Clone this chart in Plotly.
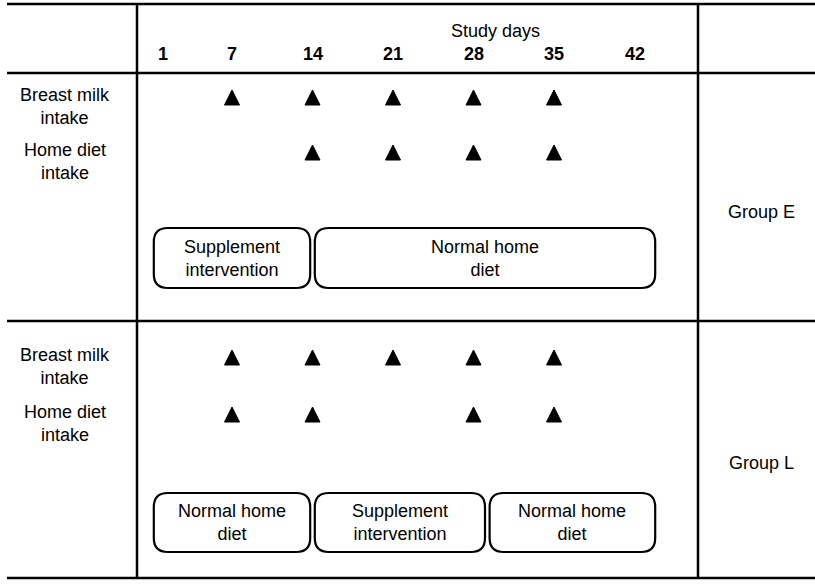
import plotly.graph_objects as go

# ---------------- data ----------------
study_days = [1, 7, 14, 21, 28, 35, 42]
axis_title = "Study days"
group_names = ["Group E", "Group L"]
row_labels = ["Breast milk<br>intake", "Home diet<br>intake"]

# measurement days (triangles)
e_breast_milk_days = [7, 14, 21, 28, 35]
e_home_diet_days = [14, 21, 28, 35]
l_breast_milk_days = [7, 14, 21, 28, 35]
l_home_diet_days = [7, 14, 28, 35]

# diet periods (boxes), in study days
e_period_labels = ["Supplement<br>intervention", "Normal home<br>diet"]
e_period_start = [0, 14]
e_period_end = [14, 44]
l_period_labels = ["Normal home<br>diet", "Supplement<br>intervention", "Normal home<br>diet"]
l_period_start = [0, 14, 29.2]
l_period_end = [14, 29.2, 44]

# ---------------- layout constants (pixels) ----------------
W, H = 815, 585
PX_PER_DAY = 11.5
X_REF_PX = 232  # pixel position of day 7
x_lo = 7 - X_REF_PX / PX_PER_DAY
x_hi = 7 + (W - X_REF_PX) / PX_PER_DAY

FONT = "Liberation Sans, Arial, Helvetica, sans-serif"
FS = 18

y_top, y_head, y_mid, y_bot = 4, 73, 321, 578
y_title, y_days = 31, 54
groups_layout = [
    dict(bm=96, hd=151, label=212, box=(228, 288)),
    dict(bm=356, hd=413, label=463, box=(493, 552)),
]
x_left_line, x_right_line = 137, 698

fig = go.Figure()

def px_to_day(p):
    return x_lo + p / PX_PER_DAY

# triangles (arrow-up marker: apex sits at the data point)
TRI = 15
tri_sets = [(e_breast_milk_days, e_home_diet_days), (l_breast_milk_days, l_home_diet_days)]
for g, (bm, hd) in zip(groups_layout, tri_sets):
    for days, yy in ((bm, g["bm"] - 6), (hd, g["hd"] - 6)):
        fig.add_trace(go.Scatter(
            x=days, y=[yy] * len(days), mode="markers",
            marker=dict(symbol="arrow-up", size=TRI, color="black",
                        line=dict(width=1, color="black")),
            showlegend=False, hoverinfo="skip"))

annotations = []
def add_text(x, y, text, size=FS, bold=False):
    annotations.append(dict(
        x=x, y=y, xref="x", yref="y", text=f"<b>{text}</b>" if bold else text,
        showarrow=False, xanchor="center", yanchor="middle",
        font=dict(family=FONT, size=size, color="black"), align="center"))

add_text(px_to_day(495), y_title, axis_title)
for d in study_days:
    add_text(d, y_days, str(d), bold=True)

for g, name in zip(groups_layout, group_names):
    add_text(px_to_day(65), g["bm"] + 10, row_labels[0])
    add_text(px_to_day(65), g["hd"] + 10, row_labels[1])
    add_text(px_to_day(761), g["label"], name)

shapes = []
line = dict(color="black", width=2.5)
for yy in (y_top, y_head, y_mid, y_bot):
    shapes.append(dict(type="line", xref="x", yref="y", x0=px_to_day(7), x1=x_hi,
                       y0=yy, y1=yy, line=line))
for xx in (x_left_line, x_right_line):
    shapes.append(dict(type="line", xref="x", yref="y", x0=px_to_day(xx), x1=px_to_day(xx),
                       y0=y_top, y1=y_bot, line=line))

def rounded(x0, x1, y0, y1, r=14):
    rx = r / PX_PER_DAY
    ry = r
    return (f"M {x0+rx},{y0} L {x1-rx},{y0} Q {x1},{y0} {x1},{y0+ry} "
            f"L {x1},{y1-ry} Q {x1},{y1} {x1-rx},{y1} L {x0+rx},{y1} "
            f"Q {x0},{y1} {x0},{y1-ry} L {x0},{y0+ry} Q {x0},{y0} {x0+rx},{y0} Z")

pad = 0.2
periods = [(e_period_labels, e_period_start, e_period_end),
           (l_period_labels, l_period_start, l_period_end)]
for g, (labs, starts, ends) in zip(groups_layout, periods):
    y0, y1 = g["box"]
    for lab, s, e in zip(labs, starts, ends):
        shapes.append(dict(type="path", xref="x", yref="y",
                           path=rounded(s + pad, e - pad, y0, y1),
                           line=dict(color="black", width=2.2), fillcolor="rgba(0,0,0,0)"))
        add_text((s + e) / 2, (y0 + y1) / 2, lab)

fig.update_layout(
    width=W, height=H,
    margin=dict(l=0, r=0, t=0, b=0),
    paper_bgcolor="white", plot_bgcolor="white",
    xaxis=dict(range=[x_lo, x_hi], visible=False, fixedrange=True),
    yaxis=dict(range=[H, 0], visible=False, fixedrange=True),
    shapes=shapes, annotations=annotations, showlegend=False,
)

fig.write_html("out.html", config={"displayModeBar": False},
               post_script="document.body.style.margin='0';")
